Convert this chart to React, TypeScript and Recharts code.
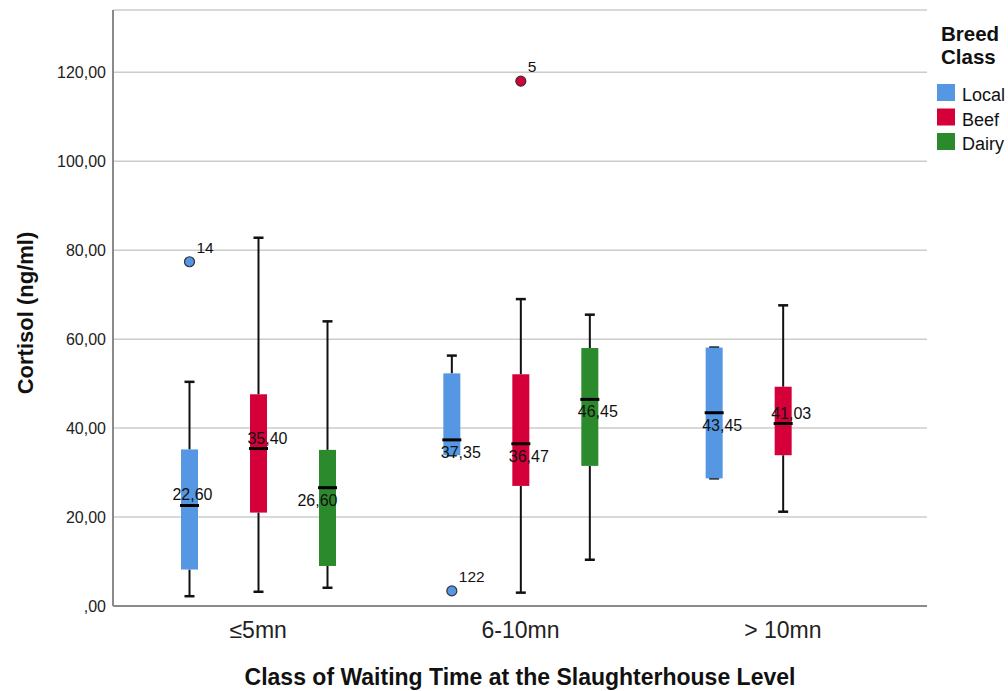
import React from 'react';
import { ComposedChart, Bar, XAxis, YAxis, CartesianGrid } from 'recharts';

// ---------- data ----------
const categories = ['≤5mn', '6-10mn', '> 10mn'];
const seriesNames = ['Local', 'Beef', 'Dairy'];
const seriesKeys = ['local', 'beef', 'dairy'];
const seriesColors = ['#5597e2', '#d5003a', '#2b8a2b'];

const localMin = [2.2, 33.9, 28.7];
const localQ1 = [8.2, 33.9, 28.7];
const localMed = [22.6, 37.35, 43.45];
const localQ3 = [35.2, 52.3, 58.1];
const localMax = [50.4, 56.3, 58.1];
const localOutliers = [[77.4], [3.4], []];
const localOutlierIds = [['14'], ['122'], []];

const beefMin = [3.2, 3.0, 21.2];
const beefQ1 = [21.0, 27.0, 33.9];
const beefMed = [35.4, 36.47, 41.03];
const beefQ3 = [47.6, 52.1, 49.3];
const beefMax = [82.8, 69.0, 67.6];
const beefOutliers = [[], [118.0], []];
const beefOutlierIds = [[], ['5'], []];

const dairyMin = [4.1, 10.4, null];
const dairyQ1 = [9.0, 31.5, null];
const dairyMed = [26.6, 46.45, null];
const dairyQ3 = [35.1, 58.0, null];
const dairyMax = [64.0, 65.5, null];
const dairyOutliers = [[], [], []];
const dairyOutlierIds = [[], [], []];

const yTicks = [0, 20, 40, 60, 80, 100, 120];
const yMax = 134;

// median label placement (style)
const labelSide = [
  ['above', 'below', 'below'],
  ['above', 'below', 'above'],
  ['below', 'below', 'below'],
];
const labelDx = [
  [3, 9, 8],
  [9, 8, 8],
  [-10, 8, 0],
];

const FONT = '"Liberation Sans", Arial, Helvetica, sans-serif';

const statSets = [
  { min: localMin, q1: localQ1, med: localMed, q3: localQ3, max: localMax, out: localOutliers, ids: localOutlierIds },
  { min: beefMin, q1: beefQ1, med: beefMed, q3: beefQ3, max: beefMax, out: beefOutliers, ids: beefOutlierIds },
  { min: dairyMin, q1: dairyQ1, med: dairyMed, q3: dairyQ3, max: dairyMax, out: dairyOutliers, ids: dairyOutlierIds },
];

const rows = categories.map((cat, ci) => {
  const row: any = { category: cat };
  statSets.forEach((s, si) => {
    const mn = s.min[ci];
    if (mn == null) {
      row[seriesKeys[si]] = null;
      return;
    }
    const outs = s.out[ci];
    row[seriesKeys[si]] = {
      min: mn,
      q1: s.q1[ci],
      med: s.med[ci],
      q3: s.q3[ci],
      max: s.max[ci],
      outliers: outs,
      ids: s.ids[ci],
      lo: Math.min(mn, ...outs),
      hi: Math.max(s.max[ci] as number, ...outs),
    };
  });
  return row;
});

const comma = (v: number) => v.toFixed(2).replace('.', ',');
const yFmt = (v: number) => (v === 0 ? ',00' : comma(v));

function BoxShape(props: any) {
  const { x, y, width, height, payload, si } = props;
  const s = payload ? payload[seriesKeys[si]] : null;
  if (!s || !isFinite(x) || !isFinite(y) || !isFinite(height) || s.hi === s.lo) return null;
  const top = Math.min(y, y + height);
  const h = Math.abs(height);
  const ppu = h / (s.hi - s.lo);
  const vy = (v: number) => top + h - (v - s.lo) * ppu;
  const cx = x + width / 2;
  const color = seriesColors[si];
  const ci = categories.indexOf(payload.category);
  const side = labelSide[si][ci];
  const dx = labelDx[si][ci];
  const capW = 10;
  return (
    <g>
      <line x1={cx} x2={cx} y1={vy(s.max)} y2={vy(s.q3)} stroke="#111" strokeWidth={2} />
      <line x1={cx} x2={cx} y1={vy(s.q1)} y2={vy(s.min)} stroke="#111" strokeWidth={2} />
      <line x1={cx - capW / 2} x2={cx + capW / 2} y1={vy(s.max)} y2={vy(s.max)} stroke="#111" strokeWidth={2.5} />
      <line x1={cx - capW / 2} x2={cx + capW / 2} y1={vy(s.min)} y2={vy(s.min)} stroke="#111" strokeWidth={2.5} />
      <rect x={x} y={vy(s.q3)} width={width} height={vy(s.q1) - vy(s.q3)} fill={color} />
      <line x1={x - 1} x2={x + width + 1} y1={vy(s.med)} y2={vy(s.med)} stroke="#000" strokeWidth={3} />
      <text
        x={cx + dx}
        y={vy(s.med) + (side === 'above' ? -5 : 18)}
        textAnchor="middle"
        fontSize={16}
        fontFamily={FONT}
        fill="#111"
      >
        {comma(s.med)}
      </text>
      {s.outliers.map((o: number, k: number) => (
        <g key={k}>
          <circle cx={cx} cy={vy(o)} r={5} fill={color} stroke="#333" strokeWidth={1.2} />
          <text x={cx + 7} y={vy(o) - 9} fontSize={15.5} fontFamily={FONT} fill="#111">
            {s.ids[k]}
          </text>
        </g>
      ))}
    </g>
  );
}

const XTitle = (props: any) => {
  const vb = props.viewBox || {};
  return (
    <text
      x={vb.x + vb.width / 2}
      y={vb.y + 79}
      textAnchor="middle"
      fontSize={23}
      fontWeight="bold"
      fontFamily={FONT}
      fill="#111"
    >
      Class of Waiting Time at the Slaughterhouse Level
    </text>
  );
};

const YTitle = (props: any) => {
  const vb = props.viewBox || {};
  const cx = 33;
  const cy = vb.y + vb.height / 2 + 5;
  return (
    <text
      x={cx}
      y={cy}
      transform={`rotate(-90, ${cx}, ${cy})`}
      textAnchor="middle"
      fontSize={22}
      fontWeight="bold"
      fontFamily={FONT}
      fill="#111"
    >
      Cortisol (ng/ml)
    </text>
  );
};

export default function App() {
  return (
    <div style={{ position: 'fixed', left: 0, top: 0, width: 1008, height: 691, fontFamily: FONT, background: '#fff' }}>
      <ComposedChart
        width={1008}
        height={691}
        data={rows}
        margin={{ top: 10, right: 81, left: 0, bottom: 0 }}
        barGap={52}
        style={{ fontFamily: FONT }}
      >
        <CartesianGrid vertical={false} stroke="#cccccc" strokeWidth={1.5} />
        <XAxis
          dataKey="category"
          type="category"
          height={85}
          padding={{ left: 14, right: 13 }}
          tickLine={false}
          tickSize={8}
          tickMargin={8}
          axisLine={{ stroke: '#8a8a8a', strokeWidth: 2 }}
          tick={{ fontSize: 23, fill: '#222', fontFamily: FONT }}
          label={XTitle}
        />
        <YAxis
          type="number"
          domain={[0, yMax]}
          ticks={yTicks}
          width={113}
          tickLine={false}
          tickSize={5}
          tickMargin={2}
          tickFormatter={yFmt}
          axisLine={{ stroke: '#8a8a8a', strokeWidth: 2 }}
          tick={{ fontSize: 16, fill: '#222', fontFamily: FONT }}
          label={YTitle}
        />
        {seriesKeys.map((k, si) => (
          <Bar
            key={k}
            name={seriesNames[si]}
            dataKey={(row: any) => (row[k] ? [row[k].lo, row[k].hi] : null)}
            barSize={17}
            fill={seriesColors[si]}
            isAnimationActive={false}
            shape={(p: any) => <BoxShape {...p} si={si} />}
          />
        ))}
      </ComposedChart>
      <svg
        width={1008}
        height={691}
        style={{ position: 'absolute', left: 0, top: 0, pointerEvents: 'none' }}
      >
        <text fontSize={20.5} fontWeight="bold" fontFamily={FONT} fill="#111">
          <tspan x={941} y={41}>Breed</tspan>
          <tspan x={941} y={64}>Class</tspan>
        </text>
        {seriesNames.map((n, i) => (
          <g key={n}>
            <rect x={937} y={84 + i * 24.5} width={18} height={17} fill={seriesColors[i]} />
            <text x={962} y={101 + i * 24.5} fontSize={18} fontFamily={FONT} fill="#111">
              {n}
            </text>
          </g>
        ))}
      </svg>
    </div>
  );
}
